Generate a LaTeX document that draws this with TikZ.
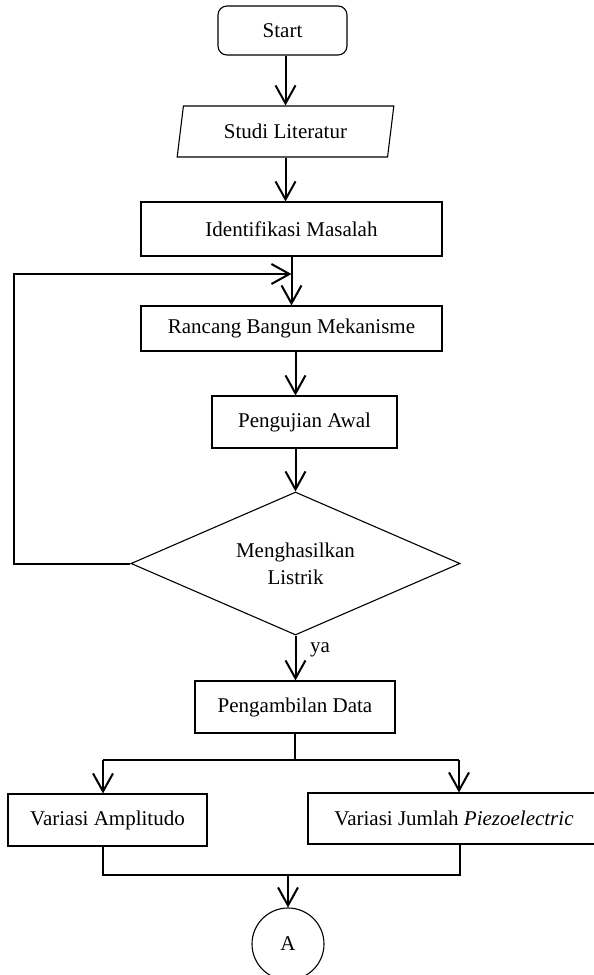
\documentclass[tikz,border=0pt]{standalone}
\usepackage{fontspec}
\setmainfont{Liberation Serif}
\usetikzlibrary{shapes.geometric,arrows.meta}
\begin{document}
\begin{tikzpicture}[x=1pt,y=-1pt,
  txt/.style={font=\fontsize{21}{27}\selectfont},
  shp/.style={draw,line width=1.1pt,inner sep=0pt,txt,align=center},
  boxn/.style={shp,rectangle},
  conn/.style={line width=2pt},
  arr/.style={conn,-{Straight Barb[length=18pt,width=20pt,line width=2pt]}}]
\useasboundingbox (0,0) rectangle (594,975);
% nodes
\node[shp,rounded corners=9pt,minimum width=129pt,minimum height=49pt] (start) at (282.5,30.5) {Start};
\node[shp,trapezium,trapezium left angle=75.7,trapezium right angle=104.3,trapezium stretches=true,minimum width=217pt,minimum height=51pt] (studi) at (285.5,131.5) {Studi Literatur};
\node[boxn,minimum width=301pt,minimum height=54pt] (ident) at (291.5,229) {Identifikasi Masalah};
\node[boxn,minimum width=301pt,minimum height=45pt] (rancang) at (291.5,328.5) {Rancang Bangun Mekanisme};
\node[boxn,minimum width=185pt,minimum height=52pt] (peng) at (304.5,422) {Pengujian Awal};
\node[shp,diamond,aspect=2.3,minimum width=329pt,minimum height=143pt] (dec) at (295.5,563.5) {Menghasilkan\\Listrik};
\node[boxn,minimum width=200pt,minimum height=52pt] (ambil) at (295,707) {Pengambilan Data};
\node[boxn,minimum width=199pt,minimum height=52pt] (amp) at (107.5,820) {Variasi Amplitudo};
\node[boxn,minimum width=292pt,minimum height=51pt] (jum) at (454,818.5) {Variasi Jumlah \textit{Piezoelectric}};
\node[shp,circle,minimum size=72pt] (conA) at (288,944) {A};
\node[txt,anchor=center] (ya) at (320,650) {ya};
% helper coordinates
\coordinate (fbtop) at (13.5,274);
\coordinate (bl) at (103,760);
\coordinate (br) at (459,760);
\coordinate (ml) at (103,875);
\coordinate (mr) at (460,875);
% connectors
\draw[arr] (studi.north |- start.south) -- (studi.north);
\draw[arr] (studi.south) -- (studi.south |- ident.north);
\draw[arr] (ident.south) -- (rancang.north);
\draw[arr] (rancang.south -| dec.north) -- (peng.north -| dec.north);
\draw[arr] (peng.south -| dec.north) -- (dec.north);
\draw[arr] (dec.west) -- (dec.west -| fbtop) -- (fbtop) -- (fbtop -| ident.south);
\draw[arr] (dec.south) -- (dec.south |- ambil.north);
\draw[conn] (ambil.south) -- (ambil.south |- bl);
\draw[conn] (bl) -- (br);
\draw[arr] (bl) -- (bl |- amp.north);
\draw[arr] (br) -- (br |- jum.north);
\draw[conn] (bl |- amp.south) -- (ml) -- (mr) -- (mr |- jum.south);
\draw[arr] (conA.north |- ml) -- (conA.north);
\end{tikzpicture}
\end{document}
